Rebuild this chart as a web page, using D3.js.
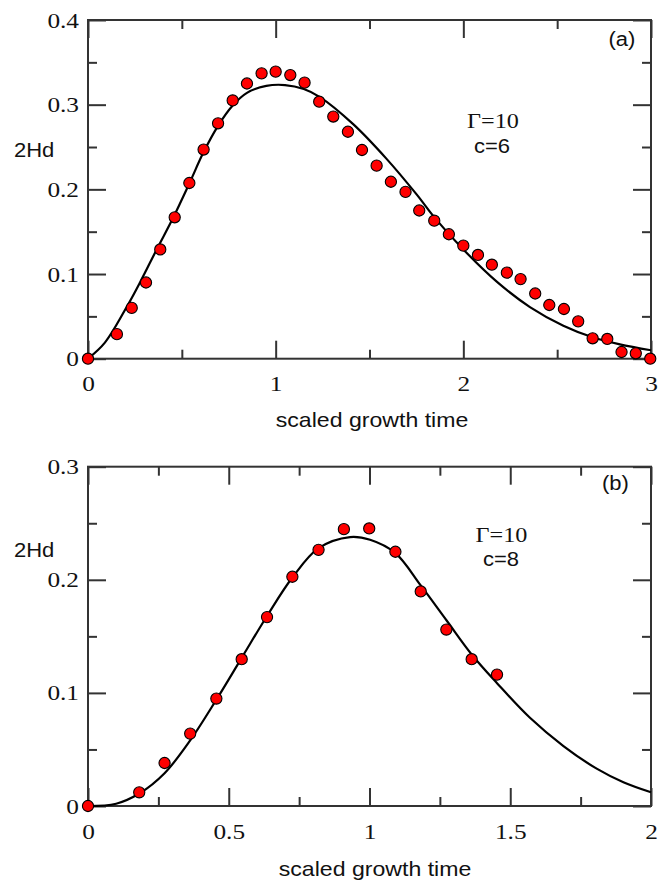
<!DOCTYPE html>
<html><head><meta charset="utf-8">
<script src="https://cdn.jsdelivr.net/npm/d3@7"></script>
<style>
html,body{margin:0;padding:0;background:#fff;}
svg{display:block;}
</style></head>
<body>
<svg id="chart" width="658" height="884"></svg>
<script>
// ---------- data: panel (a) ----------
const pointsTimeA = [0,0.154,0.233,0.309,0.385,0.462,0.540,0.616,0.693,0.771,0.847,0.925,1.000,1.078,1.154,1.232,1.307,1.385,1.460,1.538,1.614,1.692,1.765,1.845,1.923,2.000,2.078,2.152,2.232,2.305,2.383,2.458,2.536,2.612,2.689,2.767,2.843,2.919,2.996];
const pointsValA  = [0,0.029,0.060,0.090,0.129,0.167,0.2075,0.247,0.278,0.305,0.325,0.337,0.339,0.335,0.326,0.3035,0.286,0.268,0.2465,0.228,0.209,0.197,0.175,0.163,0.147,0.1335,0.1225,0.111,0.1016,0.094,0.077,0.0634,0.0587,0.0441,0.0241,0.0233,0.0079,0.0064,0];
const curveTimeA = [0,0.09,0.206,0.277,0.366,0.455,0.538,0.616,0.693,0.771,0.847,0.95,1.05,1.15,1.236,1.413,1.591,1.751,1.849,2.0,2.178,2.355,2.533,2.693,2.834,3.0];
const curveValA  = [0,0.019,0.061,0.090,0.129,0.167,0.206,0.244,0.275,0.299,0.314,0.3222,0.3232,0.3185,0.309,0.277,0.236,0.194,0.166,0.129,0.091,0.061,0.039,0.025,0.017,0.010];
const xMajorA = [0,1,2,3], xMinorA = [0.5,1.5,2.5];
const yMajorA = [0,0.1,0.2,0.3,0.4], yMinorA = [0.05,0.15,0.25,0.35];

// ---------- data: panel (b) ----------
const pointsTimeB = [0,0.182,0.272,0.363,0.456,0.546,0.636,0.726,0.819,0.909,0.999,1.092,1.182,1.273,1.363,1.453];
const pointsValB  = [0,0.0121,0.038,0.064,0.095,0.1298,0.167,0.2027,0.2265,0.2448,0.2454,0.2248,0.1897,0.156,0.1298,0.1162];
const curveTimeB = [0,0.10,0.182,0.272,0.363,0.456,0.546,0.636,0.726,0.819,0.931,1.002,1.092,1.182,1.274,1.363,1.453,1.57,1.689,1.807,1.902,2.0];
const curveValB  = [0,0.002,0.011,0.029,0.058,0.094,0.131,0.168,0.202,0.228,0.2378,0.2354,0.2236,0.195,0.164,0.134,0.1086,0.078,0.053,0.033,0.021,0.0121];
const xMajorB = [0,0.5,1,1.5,2], xMinorB = [0.25,0.75,1.25,1.75];
const yMajorB = [0,0.1,0.2,0.3], yMinorB = [0.05,0.15,0.25];

const yLabel = "2Hd", xLabel = "scaled growth time";
const panels = [
  {tag:"(a)", gamma:"Γ=10", c:"c=6", top:20, bottom:358.7, xMax:3, yMax:0.4,
   pt:pointsTimeA, pv:pointsValA, ct:curveTimeA, cv:curveValA,
   xMaj:xMajorA, xMin:xMinorA, yMaj:yMajorA, yMin:yMinorA,
   tagPos:[622,46], gPos:[493,128], cPos:[492,152.5], yLabY:157, xLabX:372, xLabY:427},
  {tag:"(b)", gamma:"Γ=10", c:"c=8", top:466.7, bottom:806, xMax:2, yMax:0.3,
   pt:pointsTimeB, pv:pointsValB, ct:curveTimeB, cv:curveValB,
   xMaj:xMajorB, xMin:xMinorB, yMaj:yMajorB, yMin:yMinorB,
   tagPos:[615.5,490], gPos:[501.5,541.5], cPos:[501,566], yLabY:556.5, xLabX:375, xLabY:876}
];

const svg = d3.select("#chart");
const L = 88, R = 651;
const axisColor = "#333";
const serif = "'Liberation Serif', 'Times New Roman', serif";
const sans = "'Liberation Sans', Arial, sans-serif";

panels.forEach(p => {
  const x = d3.scaleLinear().domain([0,p.xMax]).range([L,R]);
  const y = d3.scaleLinear().domain([0,p.yMax]).range([p.bottom,p.top]);
  const g = svg.append("g");

  const styleAxis = sel => {
    sel.attr("font-family",null).attr("font-size",null);
    sel.select(".domain").remove();
    sel.selectAll(".tick line").attr("stroke",axisColor).attr("stroke-width",2);
    sel.selectAll("text").style("font-family",serif).style("font-size","22px").style("font-weight","normal").attr("fill","#111").attr("class","tl");
  };
  // bottom
  g.append("g").attr("transform",`translate(0,${p.bottom})`)
    .call(d3.axisBottom(x).tickValues(p.xMaj).tickSizeInner(-18).tickSizeOuter(0).tickPadding(17).tickFormat(d3.format("")))
    .call(styleAxis);
  g.append("g").attr("transform",`translate(0,${p.bottom})`)
    .call(d3.axisBottom(x).tickValues(p.xMin).tickSizeInner(-9).tickSizeOuter(0).tickFormat(""))
    .call(styleAxis);
  // top
  g.append("g").attr("transform",`translate(0,${p.top})`)
    .call(d3.axisTop(x).tickValues(p.xMaj).tickSizeInner(-18).tickSizeOuter(0).tickFormat(""))
    .call(styleAxis);
  g.append("g").attr("transform",`translate(0,${p.top})`)
    .call(d3.axisTop(x).tickValues(p.xMin).tickSizeInner(-9).tickSizeOuter(0).tickFormat(""))
    .call(styleAxis);
  // left
  g.append("g").attr("transform",`translate(${L},0)`)
    .call(d3.axisLeft(y).tickValues(p.yMaj).tickSizeInner(-18).tickSizeOuter(0).tickPadding(9).tickFormat(d3.format("")))
    .call(styleAxis);
  g.append("g").attr("transform",`translate(${L},0)`)
    .call(d3.axisLeft(y).tickValues(p.yMin).tickSizeInner(-9).tickSizeOuter(0).tickFormat(""))
    .call(styleAxis);
  // right
  g.append("g").attr("transform",`translate(${R},0)`)
    .call(d3.axisRight(y).tickValues(p.yMaj).tickSizeInner(-18).tickSizeOuter(0).tickFormat(""))
    .call(styleAxis);
  g.append("g").attr("transform",`translate(${R},0)`)
    .call(d3.axisRight(y).tickValues(p.yMin).tickSizeInner(-9).tickSizeOuter(0).tickFormat(""))
    .call(styleAxis);

  // frame
  g.append("rect").attr("x",L).attr("y",p.top).attr("width",R-L).attr("height",p.bottom-p.top)
    .attr("fill","none").attr("stroke",axisColor).attr("stroke-width",2);

  // curve
  const line = d3.line().x(d=>x(d[0])).y(d=>y(d[1])).curve(d3.curveCatmullRom.alpha(0.5));
  g.append("path").datum(d3.zip(p.ct,p.cv)).attr("d",line)
    .attr("fill","none").attr("stroke","#000").attr("stroke-width",2.2);

  // points
  g.selectAll("circle.pt").data(d3.zip(p.pt,p.pv)).join("circle").attr("class","pt")
    .attr("cx",d=>x(d[0])).attr("cy",d=>y(d[1])).attr("r",5.6)
    .attr("fill","#ff0000").attr("stroke","#000").attr("stroke-width",1.1);

  // texts
  const addText = (tx,ty,str,fam,size,anchor) => g.append("text").attr("class","st")
    .attr("x",tx).attr("y",ty).attr("text-anchor",anchor)
    .style("font-family",fam).style("font-size",size+"px").attr("fill","#111").text(str);
  addText(14,p.yLabY,yLabel,sans,20,"start");
  addText(p.xLabX,p.xLabY,xLabel,sans,21,"middle");
  addText(p.tagPos[0],p.tagPos[1],p.tag,sans,20,"middle");
  addText(p.gPos[0],p.gPos[1],p.gamma,serif,22,"middle");
  addText(p.cPos[0],p.cPos[1],p.c,sans,20,"middle");
});

// horizontal stretch of the original typesetting
svg.selectAll("text").each(function(){
  const len = this.getComputedTextLength();
  const k = this.classList.contains("tl") ? 1.15 : 1.1;
  if (len > 0) d3.select(this).attr("textLength", len*k).attr("lengthAdjust","spacingAndGlyphs");
});
</script>
</body></html>
